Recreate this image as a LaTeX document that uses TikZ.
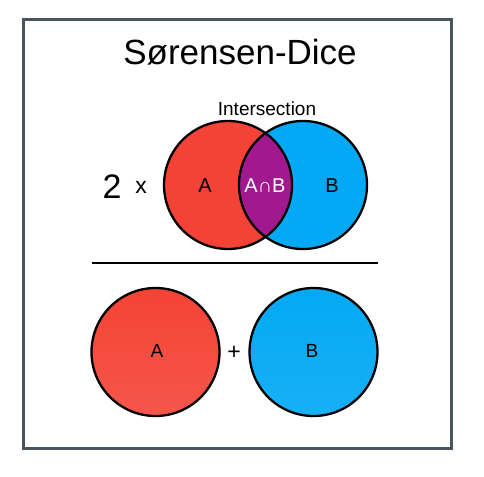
\documentclass[tikz,border=0pt]{standalone}
\usepackage{fontspec}
\setmainfont{Liberation Sans}
\usepackage{tikz}
\usetikzlibrary{calc,shadings}

\definecolor{setred}{HTML}{F44336}
\definecolor{setblue}{HTML}{03A9F4}
\definecolor{setpurple}{HTML}{A2198F}
\definecolor{framegrey}{HTML}{4A565D}

\tikzset{
    ring/.style={line width=2.3pt, draw=black},
    lbl/.style={inner sep=0pt, anchor=base, font=\fontsize{19}{21}\selectfont},
    biglbl/.style={inner sep=0pt, anchor=base, font=\fontsize{20}{22}\selectfont}
}

\begin{document}
\begin{tikzpicture}[x=1pt,y=-1pt]
        \useasboundingbox (0,0) rectangle (484,476);

        \coordinate (A) at (228,185);
        \coordinate (B) at (303,185);
        \coordinate (P) at (155.5,352);
        \coordinate (Q) at (313.5,352);
        \coordinate (L) at (92,263);
        \coordinate (R) at (378,263);

        \draw[framegrey, line width=3pt] (23,20) rectangle (451,448);

        % top: 2 x intersection
        \fill[setred] (A) circle (64pt);
        \fill[setblue] (B) circle (64pt);
        \begin{scope}
            \clip (A) circle (64pt);
            \fill[setpurple] (B) circle (64pt);
        \end{scope}
        \draw[ring] (A) circle (64pt);
        \draw[ring] (B) circle (64pt);

        \draw[line width=2.6pt] (L) -- (R);

        % bottom: A + B
        \shade[top color=setred, bottom color=setred!90!white] (P) circle (64pt);
        \shade[top color=setblue, bottom color=setblue!92!white] (Q) circle (64pt);
        \draw[ring] (P) circle (64pt);
        \draw[ring] (Q) circle (64pt);

        \node[inner sep=0pt, anchor=base, font=\fontsize{35}{40}\selectfont] (title) at (240,65) {Sørensen-Dice};
        \node[lbl] (inter) at (267,116) {Intersection};
        \node[inner sep=0pt, anchor=base, font=\fontsize{34}{38}\selectfont] (two) at (112,198) {2};
        \node[inner sep=0pt, anchor=base, font=\fontsize{23}{26}\selectfont] (times) at (141,193) {x};
        \node[biglbl] (labA) at (205,192) {A};
        \node[biglbl, white] (labAB) at (265,192) {A∩B};
        \node[biglbl] (labB) at (332,192) {B};
        \node[lbl] (labP) at (157,357) {A};
        \node[inner sep=0pt, anchor=base, font=\fontsize{23}{26}\selectfont] (plus) at (234,359) {+};
        \node[lbl] (labQ) at (312,357) {B};
    \end{tikzpicture}
\end{document}
